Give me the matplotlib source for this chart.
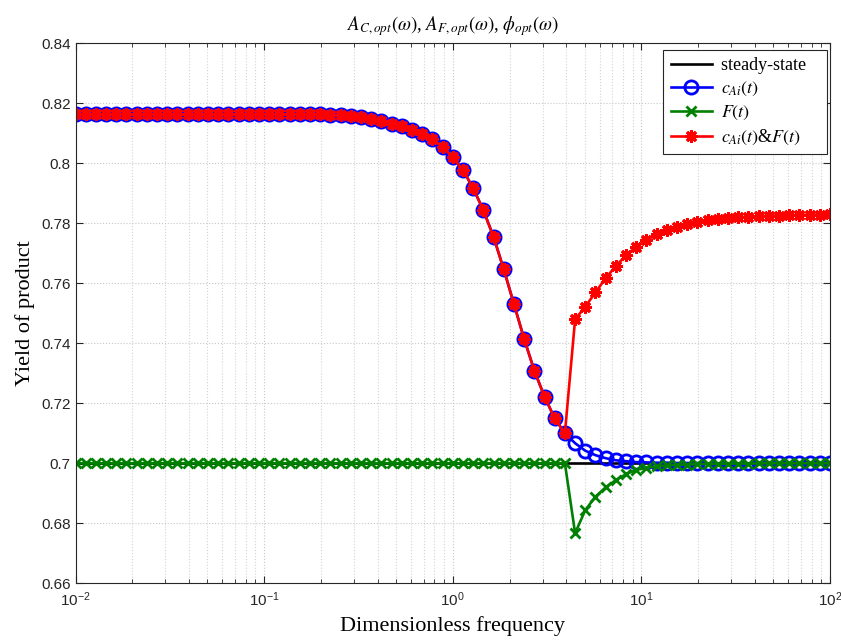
import matplotlib
matplotlib.use("Agg")
import matplotlib.pyplot as plt
import numpy as np

# dimensionless frequency grid (75 log-spaced samples, 1e-2 .. 1e2)
freq = np.logspace(-2, 2, 75)

steady = [0.7000] * 75

c_ai = ([0.8163] * 25 +
        [0.8162, 0.8160, 0.8157, 0.8153, 0.8148,
         0.8140, 0.8132, 0.8123, 0.8112, 0.8098, 0.8080, 0.8055, 0.8020,
         0.7978, 0.7917, 0.7844, 0.7755, 0.7647, 0.7531, 0.7415, 0.7309,
         0.7222, 0.7150, 0.7100,
         0.7067, 0.7042, 0.7027, 0.7017, 0.7010, 0.7007, 0.7004, 0.7003,
         0.7002, 0.7002, 0.7001, 0.7001, 0.7001] +
        [0.7000] * 13)

f_t = ([0.7000] * 49 +
       [0.6767, 0.6844, 0.6889, 0.6920, 0.6944, 0.6964, 0.6978, 0.6985,
        0.6990, 0.6993, 0.6995, 0.6996, 0.6997, 0.6998, 0.6998, 0.6999,
        0.6999, 0.6999] +
       [0.7000] * 8)

c_ai_f = (c_ai[:49] +
          [0.7480, 0.7522, 0.7570, 0.7617, 0.7658, 0.7693, 0.7722, 0.7744,
           0.7763, 0.7778, 0.7789, 0.7798, 0.7805, 0.7810, 0.7814, 0.7817,
           0.7820, 0.7822, 0.7824, 0.7825, 0.7826, 0.7827, 0.7828, 0.7829,
           0.7829, 0.7830])

plt.rcParams['mathtext.fontset'] = 'stix'
plt.rcParams['font.family'] = ['Liberation Sans', 'DejaVu Sans']

fig = plt.figure(figsize=(8.41, 6.42), dpi=100)
ax = fig.add_axes([75.5 / 841, 58.7 / 642, 754.5 / 841, 540 / 642])

lw = 1.9
pad = '   '
ax.plot(freq, steady, color='black', lw=lw, label='steady-state' + pad)
ax.plot(freq, c_ai, color='blue', lw=lw, marker='o', ms=9.5, mew=2,
        mfc='none', label=r'$c_{Ai}(t)$')
ax.plot(freq, f_t, color='green', lw=lw, marker='x', ms=7, mew=2,
        label=r'$F(t)$')
ax.plot(freq, c_ai_f, color='red', lw=lw, marker=(8, 2, 0), ms=9, mew=2.2,
        label=r'$c_{Ai}(t)$&$F(t)$' + pad)

ax.set_xscale('log')
ax.set_xlim(1e-2, 1e2)
ax.set_ylim(0.66, 0.84)
ax.set_yticks(np.arange(0.66, 0.8401, 0.02))
ax.set_yticklabels(['0.66', '0.68', '0.7', '0.72', '0.74', '0.76',
                    '0.78', '0.8', '0.82', '0.84'])

ax.grid(True, which='major', color='#c8c8c8', ls=':', lw=0.8)
ax.grid(True, which='minor', axis='x', color='#d4d4d4', ls=':', lw=0.8)
ax.tick_params(which='both', direction='in', top=True, right=True,
               labelsize=11, colors='#262626')
ax.tick_params(which='major', length=5)
ax.tick_params(which='minor', length=3)
ax.tick_params(axis='x', pad=5)
for s in ax.spines.values():
    s.set_color('#262626')
    s.set_linewidth(0.8)

serif = ['Liberation Serif', 'DejaVu Serif']
ax.set_xlabel('Dimensionless frequency', family=serif, fontsize=16, labelpad=5)
ax.set_ylabel('Yield of product', family=serif, fontsize=16, labelpad=4)
ax.set_title(r'$A_{C,opt}(\omega)$, $A_{F,opt}(\omega)$, $\phi_{opt}(\omega)$',
             family=serif, fontsize=13.5, pad=9)

leg = ax.legend(loc='upper right', bbox_to_anchor=(0.996, 0.9876),
                borderaxespad=0,
                prop={'family': serif, 'size': 13}, fancybox=False,
                edgecolor='#262626', framealpha=1, handlelength=2.3,
                borderpad=0.4, labelspacing=0.32, handletextpad=0.5)
leg.get_frame().set_linewidth(0.8)

fig.savefig('out.png', dpi=100)
